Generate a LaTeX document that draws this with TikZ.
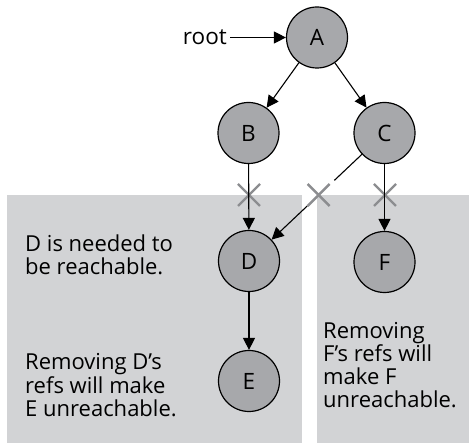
\documentclass[tikz,border=0pt]{standalone}
\usepackage{fontspec}
\setmainfont{Open Sans}
\usetikzlibrary{arrows.meta,calc}

\definecolor{panelgray}{RGB}{210,211,213}
\definecolor{objgray}{RGB}{167,168,171}
\definecolor{cutgray}{RGB}{140,141,144}

\begin{document}
\begin{tikzpicture}[x=1pt,y=-1pt]

	\tikzstyle{obj}=[draw,circle,fill=objgray,line width=1.2pt,minimum size=61pt,inner sep=0pt,font=\fontsize{22.5}{24}\selectfont]
	\tikzstyle{ref}=[line width=1.1pt,-{Triangle[length=12pt,width=12pt]}]
	\tikzstyle{cut}=[cutgray,line width=2.4pt]
	\tikzstyle{note}=[anchor=base west,align=left,inner sep=0pt,font=\fontsize{22}{23.3}\selectfont]

	\useasboundingbox (0,0) rectangle (469,443);

	% reachable / unreachable areas
	\fill[panelgray] (7,195) rectangle (302,443);
	\fill[panelgray] (317,195) rectangle (469,443);

	\node[obj] (A) at (317,37.5) {A};
	\node[obj] (B) at (248.5,133) {B};
	\node[obj] (C) at (384.5,133) {C};
	\node[obj] (D) at (249,261) {D};
	\node[obj] (F) at (384.5,262) {F};
	\node[obj] (E) at (249,381) {E};

	\node[anchor=east,inner sep=3pt,font=\fontsize{22.5}{24}\selectfont] (root) at (230,37.5) {root};

	% cut references
	\foreach \cx in {249,318.6,385}
		\draw[cut] (\cx-11,184) -- (\cx+11,206) (\cx-11,206) -- (\cx+11,184);

	\draw[ref] (root) -- (A);
	\draw[ref] (A) -- (B);
	\draw[ref] (A) -- (C);
	\draw[ref] (B) -- (D);
	\draw[ref] (C) -- (F);
	\draw[ref] (D) -- (E);

	\coordinate (cd1) at ($(C)!0.37!(D)$);
	\coordinate (cd2) at ($(C)!0.57!(D)$);
	\draw[line width=1.1pt] (C) -- (cd1);
	\draw[ref] (cd2) -- (D);

	% anchored at the baseline of the last line
	\node[note] (needD) at (25,275) {D is needed to\\be reachable.};
	\node[note] (remD) at (25,416.5) {Removing D’s\\refs will make\\E unreachable.};
	\node[note] (remF) at (323,408) {Removing\\F’s refs will\\make F\\unreachable.};

\end{tikzpicture}
\end{document}
